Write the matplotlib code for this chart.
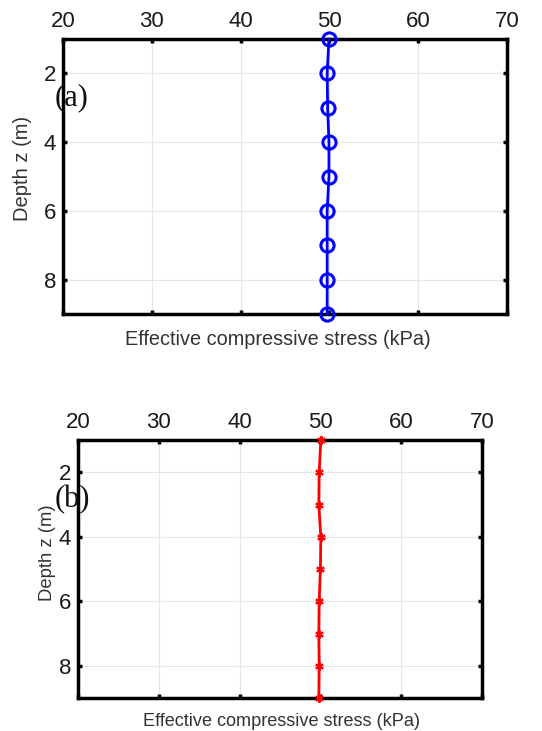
import numpy as np
import matplotlib
matplotlib.use("Agg")
from matplotlib import pyplot as plt

plt.rcParams["font.family"] = ["Liberation Sans", "DejaVu Sans"]

depth = [1, 2, 3, 4, 5, 6, 7, 8, 9]
stress_a = [49.95, 49.75, 49.8, 49.95, 49.95, 49.75, 49.75, 49.75, 49.75]
stress_b = [50.05, 49.85, 49.8, 50.05, 50.0, 49.85, 49.8, 49.85, 49.8]
xticks = [20, 30, 40, 50, 60, 70]
yticks = [2, 4, 6, 8]

W, H = 542, 731
fig = plt.figure(figsize=(W / 100, H / 100), dpi=100)


def px_axes(left, top, right, bottom):
    return fig.add_axes([left / W, 1 - bottom / H, (right - left) / W, (bottom - top) / H])


def style(ax):
    ax.set_xlim(20, 70)
    ax.set_ylim(9, 1)
    ax.set_xticks(xticks)
    ax.set_yticks(yticks)
    ax.xaxis.tick_top()
    ax.tick_params(axis="both", direction="in", length=3, width=2.5, labelsize=16,
                   top=True, bottom=True, left=True, right=True,
                   labeltop=True, labelbottom=False, pad=5, labelcolor="#1a1a1a")
    ax.grid(True, color="#e6e6e6", linewidth=0.8)
    ax.set_axisbelow(True)
    for s in ax.spines.values():
        s.set_linewidth(2.5)
        s.set_color("black")


# panel (a)
ax1 = px_axes(63, 39, 507, 314)
style(ax1)
ax1.plot(stress_a, depth, color="#0000ff", linewidth=2, marker="o", markersize=9.5,
         markerfacecolor="none", markeredgewidth=2.2, clip_on=False, zorder=5)
fig.text(23 / W, 1 - 168 / H, "Depth z (m)", rotation=90, ha="center", va="center",
         fontsize=14.5, color="#333333")
fig.text(278 / W, 1 - 340 / H, "Effective compressive stress (kPa)", ha="center",
         va="center", fontsize=14.3, color="#333333")
fig.text(55 / W, 1 - 98 / H, "(a)", family="Liberation Serif", fontsize=22,
         ha="left", va="center", color="#111111")

# panel (b)
ax2 = px_axes(78, 440, 482, 698)
style(ax2)
ax2.plot(stress_b, depth, color="#ff0000", linewidth=2, marker=(6, 2, 0), markersize=6,
         markeredgewidth=1.5, clip_on=False, zorder=5)
fig.text(47 / W, 1 - 553 / H, "Depth z (m)", rotation=90, ha="center", va="center",
         fontsize=13.3, color="#333333")
fig.text(282 / W, 1 - 722 / H, "Effective compressive stress (kPa)", ha="center",
         va="center", fontsize=13.1, color="#333333")
fig.text(55 / W, 1 - 500 / H, "(b)", family="Liberation Serif", fontsize=22,
         ha="left", va="center", color="#111111")

fig.savefig("out.png", dpi=100, facecolor="white")
